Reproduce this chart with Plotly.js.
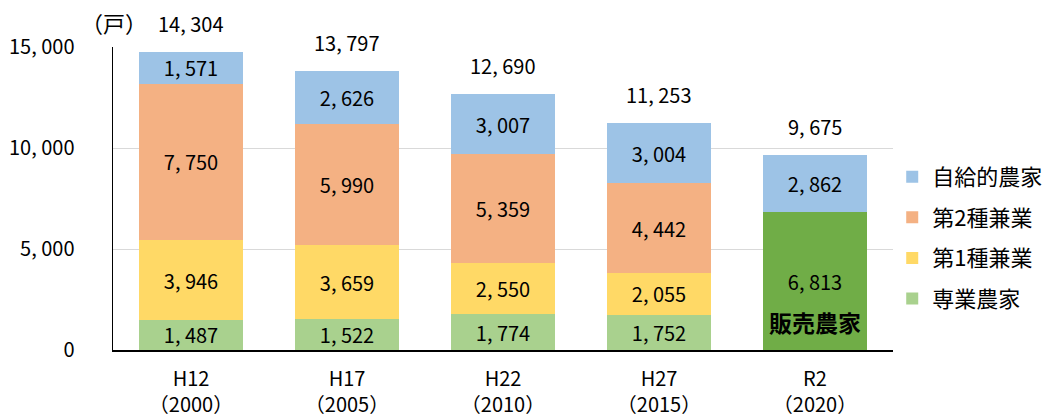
<!DOCTYPE html>
<html><head><meta charset="utf-8">
<script src="https://cdn.plot.ly/plotly-3.0.1.min.js"></script>
<style>body{margin:0;background:#fff}#c{width:1053px;height:419px}</style>
</head><body><div id="c"></div>
<script>
const categories = ['H12<br>（2000）','H17<br>（2005）','H22<br>（2010）','H27<br>（2015）','R2<br>（2020）'];
const sennou   = [1487, 1522, 1774, 1752, null];
const dai1     = [3946, 3659, 2550, 2055, null];
const dai2     = [7750, 5990, 5359, 4442, null];
const jikyu    = [1571, 2626, 3007, 3004, 2862];
const hanbai   = [null, null, null, null, 6813];
const totals   = [14304, 13797, 12690, 11253, 9675];
const yTicks   = [0, 5000, 10000, 15000];

const fmt = v => v == null ? '' : v.toLocaleString('en-US').replace(/,/g, ', ');
const FONT = '"Noto Sans CJK JP", "Noto Sans", sans-serif';
const NS = 20;

function bar(name, vals, color, rank, showlegend){
  return {type:'bar', name:name, legendgroup:name, legendrank:rank, x:categories, y:vals, marker:{color:color},
    text: vals.map(fmt), textposition:'inside', insidetextanchor:'middle',
    constraintext:'none', textangle:0,
    textfont:{family:FONT, size:NS, color:'#000'}, showlegend:showlegend,
    hoverinfo:'none'};
}
const series = [hanbai, sennou, dai1, dai2, jikyu];
const data = [
  bar('販売農家', hanbai, '#70AD47', 5, false),
  bar('専業農家', sennou, '#A9D18E', 4, true),
  bar('第1種兼業', dai1, '#FFD966', 3, true),
  bar('第2種兼業', dai2, '#F4B183', 2, true),
  bar('自給的農家', jikyu, '#9DC3E6', 1, true)
];
// label sits on top of the drawn stack
const stackTop = categories.map((_,i)=>series.reduce((s,a)=>s+(a[i]||0),0));
const annotations = totals.map((t,i)=>({x:categories[i], y:stackTop[i], xref:'x', yref:'y',
  text:fmt(t), showarrow:false, yanchor:'bottom', yshift:12,
  font:{family:FONT, size:NS, color:'#000'}}));
annotations.push({x:categories[4], y:1400, xref:'x', yref:'y', text:'<b>販売農家</b>',
  showarrow:false, font:{family:FONT, size:23, color:'#000'}});
annotations.push({x:0.001, y:1.083, xref:'paper', yref:'paper', text:'（戸）', showarrow:false,
  xanchor:'center', yanchor:'middle', font:{family:FONT, size:22, color:'#000'}});

const layout = {
  width:1053, height:419, margin:{l:113, r:160, t:47, b:69, autoexpand:false},
  paper_bgcolor:'#fff', plot_bgcolor:'#fff',
  barmode:'stack', bargap:0.33,
  font:{family:FONT, size:NS, color:'#000'},
  xaxis:{type:'category', showline:true, linecolor:'#000', linewidth:1.5, automargin:false,
    ticks:'', tickfont:{family:FONT, size:NS, color:'#000'}, ticklabelstandoff:10},
  yaxis:{range:[0,15000], tickvals:yTicks, ticktext:yTicks.map(fmt), automargin:false,
    showline:true, linecolor:'#000', linewidth:1.5, showgrid:true, gridcolor:'#d9d9d9',
    zeroline:false, ticks:'', ticklabelstandoff:33,
    tickfont:{family:FONT, size:NS, color:'#000'}},
  legend:{x:0.999, y:0.37, xanchor:'left', yanchor:'middle', traceorder:'grouped',
    font:{family:FONT, size:22, color:'#000'}, itemwidth:30, tracegroupgap:9,
    bgcolor:'rgba(0,0,0,0)'},
  annotations:annotations, showlegend:true
};
Plotly.newPlot('c', data, layout, {displayModeBar:false, staticPlot:true});
</script></body></html>
